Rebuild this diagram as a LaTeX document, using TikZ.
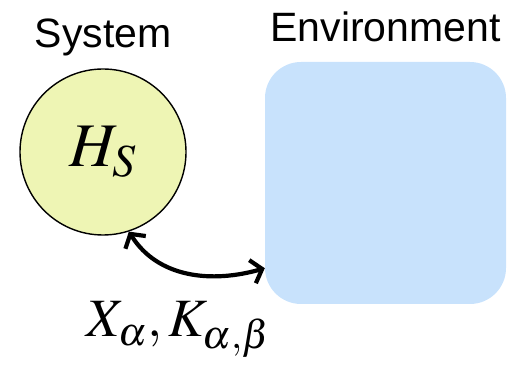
\documentclass[tikz,border=0pt]{standalone}
\usepackage{mathptmx}
\usepackage{fontspec}
\setmainfont{Liberation Sans}
\usepackage{tikz}
\usetikzlibrary{arrows.meta,positioning,calc}
\definecolor{sysfill}{HTML}{EEF5B4}
\definecolor{envfill}{HTML}{C8E2FC}
\definecolor{ink}{HTML}{000000}
\tikzset{
  sysball/.style={circle, draw=ink, line width=1.4pt, fill=sysfill, minimum size=166pt, inner sep=0pt},
  envbox/.style={rectangle, rounded corners=36pt, fill=envfill, minimum width=241pt, minimum height=242pt},
  title/.style={inner sep=0pt, font=\fontsize{41}{41}\selectfont},
  barb/.tip={Straight Barb[length=10pt,width=24pt]},
  couple/.style={barb-barb, line width=4.2pt, draw=ink}
}

\begin{document}
\begin{tikzpicture}[x=1pt, y=1pt]
  \useasboundingbox (0,0) rectangle (508,366);
  \node[sysball] (sys) at (103,214) {\raisebox{3pt}{\fontsize{62}{62}\selectfont$H_S$}};
  \node[envbox] (env) at (385.5,183) {};
  \node[title, above=21pt of sys.north, anchor=base] (systitle) {System};
  \node[title, above=20pt of env.north, anchor=base] (envtitle) {Environment};
  \coordinate (envport) at ($(env.south west)+(0,36)$);
  \draw[couple] (sys.-72) to[out=-58, in=196] (envport);
  \node[inner sep=0pt, anchor=base] (ops) at (178,29) {\fontsize{54}{54}\selectfont$X_\alpha, K_{\alpha,\beta}$};
\end{tikzpicture}
\end{document}
